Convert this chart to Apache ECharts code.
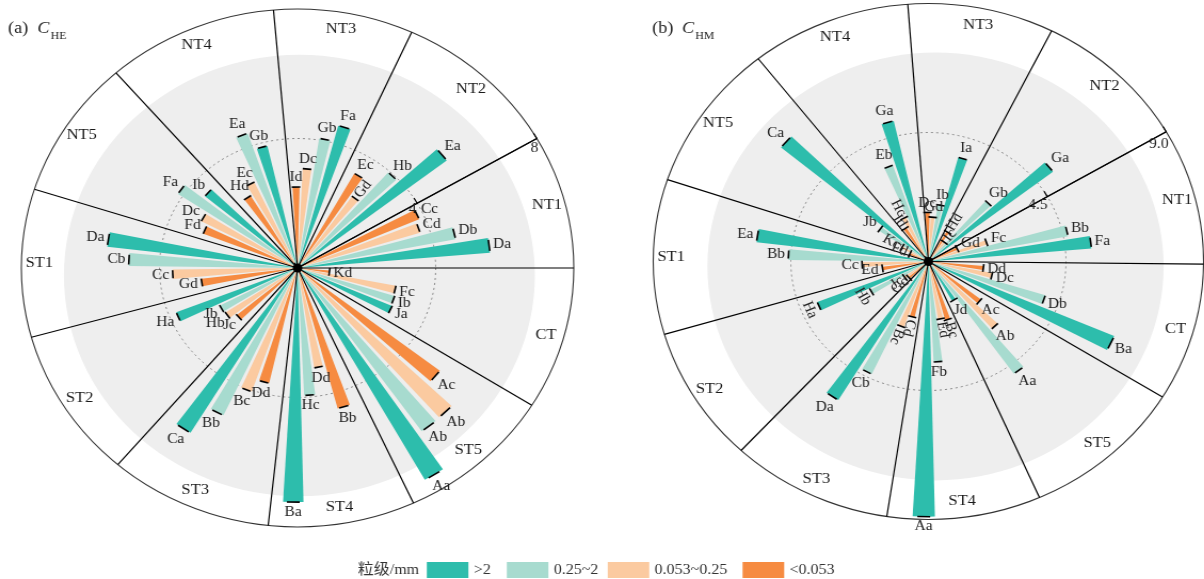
<!DOCTYPE html>
<html>
<head>
<meta charset="utf-8">
<script src="https://cdn.jsdelivr.net/npm/echarts@6/dist/echarts.min.js"></script>
<style>
  html, body { margin:0; padding:0; background:#ffffff; overflow:hidden; }
  #wrap { width:1204px; height:579px; overflow:hidden; position:relative; }
  #chart { width:1129px; height:579px; transform:scaleX(1.0665); transform-origin:0 0; }
</style>
</head>
<body>
<div id="wrap"><div id="chart"></div></div>
<script>
// ================= DATA =================
const regions = ['NT1','NT2','NT3','NT4','NT5','ST1','ST2','ST3','ST4','ST5','CT'];
const sizeClasses = ['>2','0.25~2','0.053~0.25','<0.053'];

// (a) C_HE
const heGt2        = [5.59, 5.45, 4.55, 3.87, 3.48, 5.55, 3.77, 5.96, 7.23, 7.51, 2.98];
const heGt2Lab     = ['Da','Ea','Fa','Gb','Ib','Da','Ha','Ca','Ba','Aa','Ja'];
const he025        = [4.66, 3.95, 4.05, 4.40, 4.15, 4.89, 2.53, 5.03, 3.94, 6.19, 2.94];
const he025Lab     = ['Db','Hb','Gb','Ea','Fa','Cb','Jb','Bb','Hc','Ab','Ib'];
const he0053       = [3.71, 2.72, 3.07, 2.93, 3.14, 3.62, 2.50, 4.04, 3.12, 6.17, 2.90];
const he0053Lab    = ['Cd','Gd','Dc','Ec','Dc','Cc','Hb','Bc','Dd','Ab','Fc'];
const heLt0053     = [3.83, 3.35, 2.50, 2.61, 2.93, 2.81, 2.28, 3.65, 4.49, 5.20, 0.93];
const heLt0053Lab  = ['Cc','Ec','Id','Hd','Fd','Gd','Jc','Dd','Bb','Ac','Kd'];
const heTicks      = [4, 8];
const heTickLabels = ['4', '8'];

// (b) C_HM
const hmGt2        = [5.35, 5.14, 3.76, 5.03, 6.25, 5.66, 3.90, 5.66, 8.90, 1.58, 6.61];
const hmGt2Lab     = ['Fa','Ga','Ia','Ga','Ca','Ea','Ha','Da','Aa','Jd','Ba'];
const hm025        = [4.65, 2.82, 2.00, 3.55, 1.94, 4.58, 2.14, 4.34, 3.51, 4.81, 4.00];
const hm025Lab     = ['Bb','Gb','Ib','Eb','Jb','Bb','Hb','Cb','Fb','Aa','Db'];
const hm0053       = [2.01, 0.85, 1.55, 1.71, 0.99, 2.17, 0.95, 2.43, 2.04, 3.13, 2.13];
const hm0053Lab    = ['Fc','Ic','Gd','Hc','Kc','Cc','Jc','Bc','Ed','Ab','Dc'];
const hmLt0053     = [1.04, 1.20, 1.71, 1.38, 0.66, 1.52, 0.85, 2.00, 2.12, 2.17, 1.81];
const hmLt0053Lab  = ['Gd','Hd','Dc','Id','Fd','Ed','Gc','Cd','Bc','Ac','Dd'];
const hmTicks      = [4.5, 9.0];
const hmTickLabels = ['4.5', '9.0'];

// ================= LAYOUT / STYLE =================
const COLORS = ['#2dbdac', '#a7dbcf', '#fbcaa0', '#f68b41'];
const FONT = '"Liberation Serif", "Times New Roman", serif';
const BAR_WIDTH = 4.7;        // degrees
const BAR_GAP = 0.30;         // fraction of bar width
const LABEL_SIZE = 14.5;

const charts = [
  {
    values: [heGt2, he025, he0053, heLt0053],
    labels: [heGt2Lab, he025Lab, he0053Lab, heLt0053Lab],
    ticks: heTicks, tickLabels: heTickLabels,
    center: [279, 268], radius: 259,
    bounds: [0, 30.0, 65.6, 95.0, 131.1, 162.3, 195.5, 229.4, 263.9, 294.8, 328.0],
    disk: { dx: 1.7, dy: 7.5, k: 0.8525 },
    rot: { '1-2': 'r' },
    title: { x: 7.5, cx: 35, sx: 47.5, y: 29, p: '(a)', sub: 'HE' }
  },
  {
    values: [hmGt2, hm025, hm0053, hmLt0053],
    labels: [hmGt2Lab, hm025Lab, hm0053Lab, hmLt0053Lab],
    ticks: hmTicks, tickLabels: hmTickLabels,
    center: [870.5, 261.5], radius: 258,
    bounds: [359.4, 30.2, 63.4, 94.3, 128.2, 161.5, 196.4, 227.1, 261.3, 293.8, 328.3],
    disk: { dx: 6.7, dy: 5, k: 0.829 },
    rot: { '1-2':'r','1-3':'r','3-2':'r','3-3':'r','4-2':'r','4-3':'r',
           '6-0':'t','6-1':'t','6-2':'r','6-3':'r','7-2':'r','7-3':'r','8-2':'r','8-3':'r' },
    title: { x: 611.5, cx: 639.5, sx: 652, y: 28.5, p: '(b)', sub: 'HM' }
  }
];

const mctx = document.createElement('canvas').getContext('2d');
function measure(text, size) { mctx.font = size + 'px ' + FONT; return mctx.measureText(text).width; }
function normAngle(a, s) { return ((a - s) % 360 + 360) % 360 + s; }

const option = {
  animation: false,
  polar: [], angleAxis: [], radiusAxis: [], series: [], legend: [], graphic: []
};

const band = 360 / regions.length;
const slot = BAR_WIDTH * (1 + BAR_GAP);

charts.forEach(function (c, ci) {
  const pBar = ci * 2, pAnn = ci * 2 + 1;
  const max = c.ticks[c.ticks.length - 1];
  const s = c.bounds[1];

  option.polar.push({ center: c.center, radius: c.radius }, { center: c.center, radius: c.radius });

  option.angleAxis.push({ polarIndex: pBar, type: 'category', data: regions, startAngle: 0,
    clockwise: false, boundaryGap: true, show: false });
  option.radiusAxis.push({ polarIndex: pBar, type: 'value', min: 0, max: max, show: false });

  option.angleAxis.push({ polarIndex: pAnn, type: 'value', min: s, max: s + 360, startAngle: s,
    clockwise: false, z: 1,
    axisLine: { show: true, lineStyle: { color: '#333', width: 1.1 } },
    axisTick: { show: false }, axisLabel: { show: false }, splitLine: { show: false } });
  option.radiusAxis.push({ polarIndex: pAnn, type: 'value', min: 0, max: max, interval: c.ticks[0], z: 3,
    axisLine: { show: true, lineStyle: { color: '#000', width: 1.2 } },
    axisTick: { show: true, length: 6, lineStyle: { color: '#000', width: 1.2 } },
    axisLabel: { show: false }, splitLine: { show: false } });

  // background disk + dotted reference circle
  option.series.push({
    type: 'custom', name: 'disk' + ci, coordinateSystem: 'polar', polarIndex: pAnn, z: -1, silent: true,
    data: [[c.ticks[0], s]],
    renderItem: function (params, api) {
      const cs = params.coordSys;
      const p = api.coord([api.value(0), api.value(1)]);
      const rd = Math.hypot(p[0] - cs.cx, p[1] - cs.cy);
      return { type: 'group', children: [
        { type: 'circle', shape: { cx: cs.cx + c.disk.dx, cy: cs.cy + c.disk.dy, r: cs.r * c.disk.k },
          style: { fill: '#eeeeee' } },
        { type: 'circle', shape: { cx: cs.cx, cy: cs.cy, r: rd },
          style: { fill: 'none', stroke: '#888', lineWidth: 1, lineDash: [2, 3] } }
      ] };
    }
  });

  // bars (reverse order so that ">2" sits at the clockwise side of each group)
  for (let k = 3; k >= 0; k--) {
    option.series.push({
      type: 'bar', name: sizeClasses[k], coordinateSystem: 'polar', polarIndex: pBar,
      data: c.values[k], barWidth: BAR_WIDTH, barGap: Math.round(BAR_GAP * 100) + '%',
      itemStyle: { color: COLORS[k] }, z: 2, silent: true
    });
  }

  // sector dividers + center dot
  option.series.push({
    type: 'custom', name: 'div' + ci, coordinateSystem: 'polar', polarIndex: pAnn, z: 3, silent: true,
    data: c.bounds.map(function (b) { return [max, normAngle(b, s)]; }),
    renderItem: function (params, api) {
      const cs = params.coordSys;
      const a = api.value(1);
      const p0 = api.coord([0, a]), p1 = api.coord([api.value(0), a]);
      const ch = [{ type: 'line', shape: { x1: p0[0], y1: p0[1], x2: p1[0], y2: p1[1] },
        style: { stroke: '#000', lineWidth: 1.2 } }];
      if (params.dataIndex === 0) ch.push({ type: 'circle', shape: { cx: cs.cx, cy: cs.cy, r: 4.5 }, style: { fill: '#000' } });
      return { type: 'group', children: ch };
    }
  });

  // region names
  const mids = c.bounds.map(function (b, i) {
    let e = c.bounds[(i + 1) % c.bounds.length];
    if (e <= b) e += 360;
    return normAngle((b + e) / 2, s);
  });
  option.series.push({
    type: 'custom', name: 'reg' + ci, coordinateSystem: 'polar', polarIndex: pAnn, z: 3, silent: true,
    data: mids.map(function (m) { return [0.935 * max, m]; }),
    renderItem: function (params, api) {
      const p = api.coord([api.value(0), api.value(1)]);
      return { type: 'text', x: p[0], y: p[1],
        style: { text: regions[params.dataIndex], fill: '#1a1a1a', font: '15.5px ' + FONT, align: 'center', verticalAlign: 'middle' } };
    }
  });

  // error caps + letter labels
  const items = [], meta = [];
  regions.forEach(function (reg, g) {
    for (let k = 0; k < 4; k++) {
      const ang = normAngle((g + 0.5) * band + (k - 1.5) * slot, s);
      items.push([c.values[k][g], ang]);
      meta.push({ label: c.labels[k][g], mode: c.rot[g + '-' + k] || 'h', angle: ang });
    }
  });
  option.series.push({
    type: 'custom', name: 'cap' + ci, coordinateSystem: 'polar', polarIndex: pAnn, z: 4, silent: true,
    data: items,
    renderItem: function (params, api) {
      const m = meta[params.dataIndex];
      const cs = params.coordSys;
      const p = api.coord([api.value(0), api.value(1)]);
      const dx = p[0] - cs.cx, dy = p[1] - cs.cy;
      const r = Math.hypot(dx, dy) || 1;
      const ux = dx / r, uy = dy / r;
      const arc = r * BAR_WIDTH * Math.PI / 180;
      const half = Math.max(8, Math.min(12, 0.75 * arc)) / 2;
      const th = m.angle * Math.PI / 180;
      const w = measure(m.label, LABEL_SIZE), h = LABEL_SIZE * 0.9;
      let rot = 0, off;
      if (m.mode === 'r') {
        const d = (((m.angle + 120) % 180) + 180) % 180 - 120; rot = d * Math.PI / 180; off = 3 + w / 2;
      } else if (m.mode === 't') {
        const d = (((m.angle - 90 + 120) % 180) + 180) % 180 - 120; rot = d * Math.PI / 180; off = 3 + h / 2;
      } else {
        off = 3 + (w / 2) * Math.abs(Math.cos(th)) + (h / 2) * Math.abs(Math.sin(th));
      }
      return { type: 'group', children: [
        { type: 'line', shape: { x1: p[0] - uy * half, y1: p[1] + ux * half, x2: p[0] + uy * half, y2: p[1] - ux * half },
          style: { stroke: '#000', lineWidth: 1.6 } },
        { type: 'text', x: p[0] + ux * off, y: p[1] + uy * off, rotation: rot,
          style: { text: m.label, fill: '#222', font: LABEL_SIZE + 'px ' + FONT, align: 'center', verticalAlign: 'middle' } }
      ] };
    }
  });

  // radius tick labels
  option.series.push({
    type: 'custom', name: 'tick' + ci, coordinateSystem: 'polar', polarIndex: pAnn, z: 5, silent: true,
    data: c.ticks.map(function (t) { return [t, s]; }),
    renderItem: function (params, api) {
      const p = api.coord([api.value(0), api.value(1)]);
      const th = s * Math.PI / 180;
      const ux = Math.cos(th), uy = -Math.sin(th);
      const nx = Math.sin(th), ny = Math.cos(th);
      const txt = c.tickLabels[params.dataIndex];
      const w = measure(txt, 14.5);
      const along = -(3 + w / 2), perp = params.dataIndex === 0 ? 3 : 7;
      return { type: 'text', x: p[0] + ux * along + nx * perp, y: p[1] + uy * along + ny * perp,
        style: { text: txt, fill: '#222', font: '14.5px ' + FONT, align: 'center', verticalAlign: 'middle' } };
    }
  });

  // panel title
  option.graphic.push(
    { type: 'text', x: c.title.x, y: c.title.y, style: { text: c.title.p, fill: '#222', font: '17px ' + FONT, align: 'left', verticalAlign: 'middle' } },
    { type: 'text', x: c.title.cx, y: c.title.y, style: { text: 'C', fill: '#222', font: 'italic 17px ' + FONT, align: 'left', verticalAlign: 'middle' } },
    { type: 'text', x: c.title.sx, y: c.title.y + 7.5, style: { text: c.title.sub, fill: '#222', font: '11px ' + FONT, align: 'left', verticalAlign: 'middle' } }
  );
});

// legend
const legendLefts = [400.2, 475.2, 569.8, 696.3];
option.legend = sizeClasses.map(function (n, i) {
  return { data: [n], left: legendLefts[i], top: 562, itemWidth: 39, itemHeight: 16, padding: 0,
    icon: 'rect', selectedMode: false, textStyle: { fontFamily: FONT, fontSize: 15, color: '#333' } };
});
option.graphic.push({ type: 'text', x: 335.5, y: 570.5,
  style: { text: '粒级/mm', fill: '#333', font: '15px "Liberation Serif", "Noto Sans CJK SC", serif', align: 'left', verticalAlign: 'middle' } });

const chart = echarts.init(document.getElementById('chart'), null, { renderer: 'canvas' });
chart.setOption(option);
</script>
</body>
</html>
